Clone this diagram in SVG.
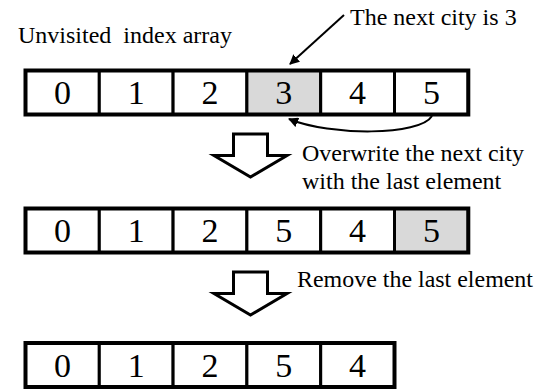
<svg xmlns="http://www.w3.org/2000/svg" width="536" height="392" viewBox="0 0 536 392">
  <style>
    .cell { fill: #ffffff; stroke: #000000; stroke-width: 3; }
    .hl { fill: #d9d9d9; }
    .frame { fill: none; stroke: #000000; stroke-width: 4; }
    .digit { font-family: "Liberation Serif", "Times New Roman", serif; font-size: 34px; text-anchor: middle; fill: #000000; }
    .label { font-family: "Liberation Serif", "Times New Roman", serif; font-size: 24px; fill: #000000; white-space: pre; }
    .block { fill: #ffffff; stroke: #000000; stroke-width: 3; stroke-linejoin: miter; }
    .conn { fill: none; stroke: #000000; stroke-width: 2; }
  </style>
  <defs>
    <marker id="ah" viewBox="0 0 10 10" refX="9" refY="5" markerWidth="5" markerHeight="5" orient="auto" markerUnits="strokeWidth">
      <path d="M0,0 L10,5 L0,10 Z" fill="#000000"/>
    </marker>
  </defs>
  <rect width="536" height="392" fill="#ffffff"/>

  <g id="label-unvisited"><text class="label" x="18" y="43" xml:space="preserve">Unvisited  index array</text></g>
  <g id="label-next"><text class="label" x="350" y="25">The next city is 3</text></g>
  <g id="label-overwrite">
    <text class="label" x="302" y="161">Overwrite the next city</text>
    <text class="label" x="302" y="189">with the last element</text>
  </g>
  <g id="label-remove"><text class="label" x="297" y="287" textLength="236" lengthAdjust="spacingAndGlyphs">Remove the last element</text></g>

  <g id="array1">
    <g id="a1c0"><rect class="cell" x="25.5" y="70.5" width="73.8" height="44"/><text class="digit" x="62.4" y="104">0</text></g>
    <g id="a1c1"><rect class="cell" x="99.3" y="70.5" width="73.8" height="44"/><text class="digit" x="136.2" y="104">1</text></g>
    <g id="a1c2"><rect class="cell" x="173.1" y="70.5" width="73.8" height="44"/><text class="digit" x="210" y="104">2</text></g>
    <g id="a1c3"><rect class="cell hl" x="246.9" y="70.5" width="73.8" height="44"/><text class="digit" x="283.8" y="104">3</text></g>
    <g id="a1c4"><rect class="cell" x="320.7" y="70.5" width="73.8" height="44"/><text class="digit" x="357.6" y="104">4</text></g>
    <g id="a1c5"><rect class="cell" x="394.5" y="70.5" width="73.8" height="44"/><text class="digit" x="431.4" y="104">5</text></g>
    <rect class="frame" x="25.5" y="70.5" width="442.8" height="44"/>
  </g>

  <g id="array2">
    <g id="a2c0"><rect class="cell" x="25.5" y="208.5" width="73.8" height="44"/><text class="digit" x="62.4" y="242">0</text></g>
    <g id="a2c1"><rect class="cell" x="99.3" y="208.5" width="73.8" height="44"/><text class="digit" x="136.2" y="242">1</text></g>
    <g id="a2c2"><rect class="cell" x="173.1" y="208.5" width="73.8" height="44"/><text class="digit" x="210" y="242">2</text></g>
    <g id="a2c3"><rect class="cell" x="246.9" y="208.5" width="73.8" height="44"/><text class="digit" x="283.8" y="242">5</text></g>
    <g id="a2c4"><rect class="cell" x="320.7" y="208.5" width="73.8" height="44"/><text class="digit" x="357.6" y="242">4</text></g>
    <g id="a2c5"><rect class="cell hl" x="394.5" y="208.5" width="73.8" height="44"/><text class="digit" x="431.4" y="242">5</text></g>
    <rect class="frame" x="25.5" y="208.5" width="442.8" height="44"/>
  </g>

  <g id="array3">
    <g id="a3c0"><rect class="cell" x="25.5" y="343" width="73.8" height="44"/><text class="digit" x="62.4" y="376.5">0</text></g>
    <g id="a3c1"><rect class="cell" x="99.3" y="343" width="73.8" height="44"/><text class="digit" x="136.2" y="376.5">1</text></g>
    <g id="a3c2"><rect class="cell" x="173.1" y="343" width="73.8" height="44"/><text class="digit" x="210" y="376.5">2</text></g>
    <g id="a3c3"><rect class="cell" x="246.9" y="343" width="73.8" height="44"/><text class="digit" x="283.8" y="376.5">5</text></g>
    <g id="a3c4"><rect class="cell" x="320.7" y="343" width="73.8" height="44"/><text class="digit" x="357.6" y="376.5">4</text></g>
    <rect class="frame" x="25.5" y="343" width="369" height="44"/>
  </g>

  <g id="step-arrow1"><polygon class="block" points="233.5,134 267.5,134 267.5,155.5 287,155.5 250.5,177 214,155.5 233.5,155.5"/></g>
  <g id="step-arrow2"><polygon class="block" points="233.5,272 267.5,272 267.5,293.5 287,293.5 250.5,315 214,293.5 233.5,293.5"/></g>

  <g id="connectors">
    <path class="conn" d="M344,15 L290,64" marker-end="url(#ah)"/>
    <path class="conn" d="M432,116 C420,136 330,136 289,119" marker-end="url(#ah)"/>
  </g>
</svg>
